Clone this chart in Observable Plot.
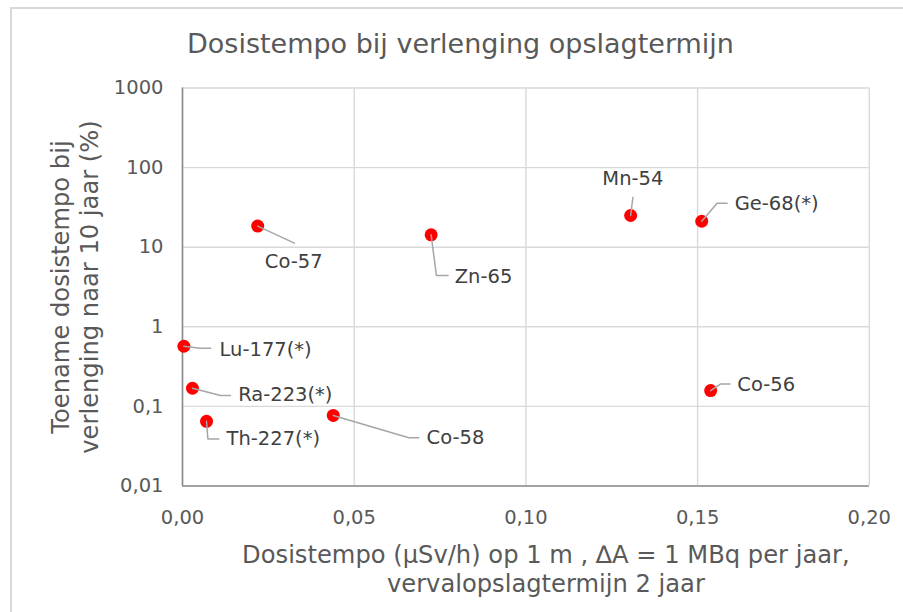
<!DOCTYPE html>
<html><head><meta charset="utf-8">
<script src="https://cdn.jsdelivr.net/npm/d3@7"></script>
<script src="https://cdn.jsdelivr.net/npm/@observablehq/plot@0.6"></script>
<style>
html,body{margin:0;padding:0;background:#fff;overflow:hidden;}
#wrap{position:relative;width:903px;height:612px;overflow:hidden;}
#frame{position:absolute;left:10px;top:7px;width:1000px;height:1000px;border:2px solid #d9d9d9;box-sizing:border-box;}
#title{position:relative;height:42px;padding:28px 0 0 18px;width:885px;text-align:center;font-family:"DejaVu Sans";font-size:27px;line-height:32px;color:#595959;}
#chart{position:relative;}
</style></head><body>
<div id="wrap"><div id="frame"></div><div id="title">Dosistempo bij verlenging opslagtermijn</div><div id="chart"></div></div>
<script>
// ---- data ----
const nuclides = ["Co-57","Zn-65","Mn-54","Ge-68(*)","Co-56","Lu-177(*)","Ra-223(*)","Th-227(*)","Co-58"];
const doseRate = [0.0219,0.0724,0.1305,0.1512,0.1538,0.0004,0.0029,0.0070,0.0439];
const increase = [18.4,14.3,25.0,21.2,0.158,0.57,0.169,0.065,0.077];
const xTicks = [0,0.05,0.10,0.15,0.20];
const xTickLabels = ["0,00","0,05","0,10","0,15","0,20"];
const yTicks = [0.01,0.1,1,10,100,1000];
const yTickLabels = ["0,01","0,1","1","10","100","1000"];
const xTitle = "Dosistempo (µSv/h) op 1 m , ∆A = 1 MBq per jaar,\nvervalopslagtermijn 2 jaar";
const yTitle = "Toename dosistempo bij\nverlenging naar 10 jaar (%)";

// ---- callout layout (pixel offsets from each point) ----
const labelAnchor = ["middle","start","middle","start","start","start","start","start","start"];
const labelOffset = [[36,36],[23.6,41.5],[2.2,-36.7],[33,-17.4],[26.7,-5.8],[35.7,3.5],[45.7,6.5],[20,17.6],[93.3,22.5]];
const leaderOffset = [
  [[0,0],[36.7,17]],
  [[0,0],[5.3,40.7],[17,40.7]],
  [[0,0],[2.3,-18.3]],
  [[0,0],[15.4,-18],[25.4,-18]],
  [[0,0],[10,-6.7],[19.3,-6.7]],
  [[0,0],[16,2],[26.7,2]],
  [[0,0],[28,7.3],[38,7.3]],
  [[0,0],[1.3,17.6],[12.3,17.6]],
  [[0,0],[75.6,22.3],[85.6,22.3]]
];

const W = 903, H = 542, ML = 182, MR = 34.2, MT = 17.5, MB = 126.5;
const xOpts = {type:"linear", domain:[0,0.2], range:[ML, W-MR]};
const yOpts = {type:"log", domain:[0.01,1000], range:[H-MB, MT]};
const sx = Plot.scale({x: xOpts});
const sy = Plot.scale({y: yOpts});
const shift = (x, y, dx, dy) => [sx.invert(sx.apply(x)+dx), sy.invert(sy.apply(y)+dy)];

const points = nuclides.map((n,i)=>({name:n, x:doseRate[i], y:increase[i]}));
const labels = points.map((p,i)=>{const [lx,ly]=shift(p.x,p.y,labelOffset[i][0],labelOffset[i][1]); return {name:p.name, x:lx, y:ly, anchor:labelAnchor[i]};});
const leaders = points.flatMap((p,i)=>leaderOffset[i].map(([dx,dy])=>{const [lx,ly]=shift(p.x,p.y,dx,dy); return {name:p.name, x:lx, y:ly};}));

const chart = Plot.plot({
  width: W, height: H,
  marginLeft: ML, marginRight: MR, marginTop: MT, marginBottom: MB,
  style: {fontFamily:"DejaVu Sans", fontSize:"19.5px", color:"#595959", background:"transparent", overflow:"visible"},
  x: {...xOpts, ticks: xTicks, tickFormat: d => xTickLabels[xTicks.indexOf(d)], tickSize:0, tickPadding:24, label:null},
  y: {...yOpts, ticks: yTicks, tickFormat: d => yTickLabels[yTicks.indexOf(d)], tickSize:0, tickPadding:19, label:null},
  marks: [
    Plot.ruleY(yTicks, {stroke:"#d9d9d9", strokeWidth:1.4}),
    Plot.ruleX(xTicks, {stroke:"#d9d9d9", strokeWidth:1.4}),
    Plot.ruleX([0], {stroke:"#8c8c8c", strokeWidth:1.6}),
    Plot.ruleY([0.01], {stroke:"#8c8c8c", strokeWidth:1.6}),
    Plot.dot(points, {x:"x", y:"y", r:6.5, fill:"#ff0000", stroke:null}),
    Plot.line(leaders, {x:"x", y:"y", z:"name", stroke:"#a6a6a6", strokeWidth:1.5}),
    Plot.text(labels.filter(d=>d.anchor==="middle"), {x:"x", y:"y", text:"name", textAnchor:"middle", fill:"#404040", fontSize:19.5}),
    Plot.text(labels.filter(d=>d.anchor==="start"), {x:"x", y:"y", text:"name", textAnchor:"start", fill:"#404040", fontSize:19.5}),
    Plot.text([0], {frameAnchor:"bottom", text:()=>xTitle, dx:20, dy:82, textAnchor:"middle", lineAnchor:"middle", lineHeight:1.2, fontSize:24.2, fill:"#595959"}),
    Plot.text([0], {frameAnchor:"left", text:()=>yTitle, rotate:-90, dx:-108, textAnchor:"middle", lineAnchor:"middle", lineHeight:1.16, fontSize:24.2, fill:"#595959"})
  ]
});
document.getElementById("chart").appendChild(chart);
</script>
</body></html>
